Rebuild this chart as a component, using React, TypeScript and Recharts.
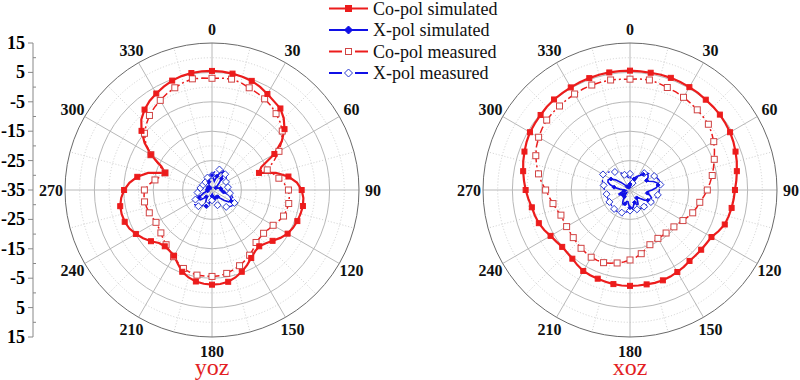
import { RadarChart, Radar, PolarGrid, PolarAngleAxis, PolarRadiusAxis } from 'recharts'

// angle in degrees, clockwise from top
const angles = [
  0, 5, 10, 15, 20, 25, 30, 35, 40, 45, 50, 55,
  60, 65, 70, 75, 80, 85, 90, 95, 100, 105, 110, 115,
  120, 125, 130, 135, 140, 145, 150, 155, 160, 165, 170, 175,
  180, 185, 190, 195, 200, 205, 210, 215, 220, 225, 230, 235,
  240, 245, 250, 255, 260, 265, 270, 275, 280, 285, 290, 295,
  300, 305, 310, 315, 320, 325, 330, 335, 340, 345, 350, 355,
]

const yozCoSim = [
  5.5, 5.4, 5.2, 4.9, 4.5, 3.7, 2.7, 1.8, 1.2, -0.5, -2.8, -6.0,
  -10.5, -16.5, -18.0, -12.5, -8.6, -6.0, -4.5, -3.8, -3.6, -3.8, -4.1, -4.6,
  -5.3, -6.6, -8.1, -9.3, -10.0, -9.5, -8.3, -6.8, -5.4, -4.2, -3.3, -2.9,
  -2.8, -3.0, -3.4, -4.2, -5.4, -7.4, -9.2, -9.8, -10.0, -9.5, -7.9, -6.4,
  -5.1, -4.0, -3.4, -3.2, -3.3, -4.0, -5.1, -6.8, -9.2, -12.5, -18.0, -16.0,
  -11.0, -7.0, -3.7, -1.0, 0.7, 2.0, 2.9, 3.8, 4.6, 5.1, 5.4, 5.5,
]
const yozCoMeas = [
  3.0, 3.2, 3.3, 2.8, 2.0, 1.4, 0.8, 0.0, -1.1, -2.3, -3.8, -6.0,
  -8.7, -11.8, -15.0, -13.5, -11.9, -10.3, -9.0, -8.6, -8.5, -8.7, -9.1, -10.0,
  -11.0, -11.6, -12.1, -12.0, -11.7, -10.5, -9.4, -8.5, -7.6, -6.9, -6.2, -5.7,
  -5.6, -5.6, -5.6, -6.0, -6.6, -7.7, -8.8, -9.8, -10.7, -11.5, -12.3, -12.8,
  -13.0, -12.7, -12.3, -12.0, -11.7, -11.8, -12.0, -13.5, -15.3, -17.0, -18.0, -15.3,
  -11.0, -7.5, -5.0, -3.4, -1.9, -0.8, 0.2, 1.2, 2.0, 2.8, 3.4, 3.2,
]
const yozXSim = [
  -30, -30.5, -31.5, -32, -30, -28.5, -28, -28.5, -30, -31.5, -32.5, -33,
  -33.5, -33.5, -33, -32.5, -32, -31.5, -31.5, -32, -31, -29.5, -28.5, -27.8,
  -27.5, -28, -29.5, -31, -32, -32.5, -32.5, -32, -32, -32.5, -33, -33.5,
  -33, -32, -31, -29.8, -29.2, -29.8, -31, -32, -32, -31, -29.8, -29.5,
  -30, -31, -32, -33, -33.5, -33.5, -33, -33, -33.5, -34, -34, -34,
  -33.5, -33, -33, -33.5, -34, -33.5, -33, -32.5, -32, -31.5, -31, -30.5,
]
const yozXMeas = [
  -30, -29.2, -28.5, -28, -27.6, -27.5, -27.4, -27.7, -28, -28.3, -28.6, -29.1,
  -29.5, -29.7, -29.8, -29.7, -29.5, -29.2, -29, -28.9, -28.8, -28.2, -27.5, -26.8,
  -26.2, -26.1, -26.5, -27, -27.5, -27.8, -28, -28.8, -29.5, -30.3, -31, -31.3,
  -31.5, -31, -30.5, -30, -29.5, -29.2, -29, -28.4, -27.8, -27.5, -27.3, -27.8,
  -28.5, -29.1, -29.7, -29.9, -30, -30.2, -30.5, -30.8, -31, -31.3, -31.5, -31.5,
  -31.5, -31.6, -31.8, -31.7, -31.5, -31.2, -31, -30.8, -30.5, -30.3, -30, -30,
]

const xozCoSim = [
  5.6, 5.5, 5.5, 5.6, 5.6, 5.5, 5.4, 5.3, 5.1, 5.0, 4.9, 4.6,
  4.3, 3.8, 3.2, 2.6, 1.9, 1.3, 0.7, 0.4, 0.1, -0.3, -0.7, -1.8,
  -3.0, -3.3, -3.4, -3.5, -3.5, -3.1, -2.8, -2.5, -2.3, -2.3, -2.4, -2.4,
  -2.4, -2.4, -2.5, -2.7, -2.9, -3.0, -3.2, -3.8, -4.5, -4.8, -4.9, -4.4,
  -3.8, -2.8, -2.0, -1.5, -1.1, -0.3, 0.5, 1.2, 1.9, 2.6, 3.2, 3.8,
  4.3, 4.5, 4.7, 5.0, 5.2, 5.2, 5.3, 5.4, 5.5, 5.6, 5.6, 5.6,
]
const xozCoMeas = [
  2.7, 2.9, 3.0, 2.6, 2.1, 1.8, 1.4, 1.0, 0.6, 0.2, -0.2, -1.1,
  -2.1, -3.3, -4.5, -5.6, -6.6, -7.7, -8.7, -9.8, -10.9, -11.6, -12.3, -13.3,
  -14.2, -15.0, -15.5, -15.8, -15.9, -16.0, -16.0, -15.7, -15.2, -14.2, -13.0, -12.0,
  -11.2, -10.4, -9.8, -9.2, -8.7, -8.6, -8.6, -8.9, -9.1, -9.5, -9.8, -10.0,
  -10.1, -10.1, -10.0, -9.2, -8.4, -7.4, -6.3, -4.8, -3.4, -2.1, -0.9, 0.1,
  0.9, 1.5, 2.0, 2.2, 2.3, 2.5, 2.7, 2.9, 3.0, 3.0, 3.0, 2.8,
]
const xozXSim = [
  -33, -33.5, -33, -32, -31, -30, -29.5, -29, -28, -27.2, -27, -27.5,
  -28.5, -28, -26.5, -25.5, -25.3, -26, -27.5, -29, -29, -28, -27.2, -27.5,
  -28, -29, -30.5, -31.5, -31.5, -30.5, -29.5, -29.5, -30.5, -30, -29, -28.5,
  -29, -30, -31, -31, -30, -29.5, -30, -31, -32, -33, -33.5, -33,
  -32, -31, -31, -32, -33, -33.5, -33, -31.5, -29.5, -28, -27, -26.8,
  -27.5, -29, -31, -32.5, -33.5, -34, -34, -34, -34, -34, -34, -33.5,
]
const xozXMeas = [
  -29.5, -31, -32, -32.5, -32.5, -32, -30, -28.5, -27.5, -26.8, -26.4, -26,
  -25.5, -25, -24.6, -24.4, -24.5, -24.8, -25, -25.2, -25.4, -25.7, -26, -26.4,
  -26.8, -27.1, -27.3, -27.5, -27.6, -27.7, -27.8, -27.9, -28, -28.1, -28.2, -28.1,
  -28, -27.7, -27.4, -27.1, -26.8, -26.6, -26.5, -26.5, -26.6, -26.7, -26.8, -26.9,
  -26.9, -26.9, -26.9, -26.9, -26.9, -26.6, -26.3, -26.1, -25.9, -25.4, -25, -24.7,
  -24.4, -24.9, -25.5, -26.2, -27, -27.5, -28, -28.8, -29.5, -30, -30.5, -30.8,
]

const labelAngles = [0, 30, 60, 90, 120, 150, 180, 210, 240, 270, 300, 330]
const minorGridAngles = [15, 45, 75, 105, 135, 165, 195, 225, 255, 285, 315, 345]
const majorRings = [-25, -15, -5, 5]
const minorRings = [-30, -20, -10, 0, 10]

const MIN = -35
const MAX = 15
const R = 147
const RED = '#ec1c1c'
const RED_M = '#d04444'
const BLUE = '#1010e6'
const BLUE_M = '#2a3ad0'
const SERIF = "'Liberation Serif', 'Times New Roman', serif"

const ringPx = (v: number) => ((v - MIN) / (MAX - MIN)) * R
const toChartAngle = (deg: number) => 90 - deg

const yozData = angles.map((a, i) => ({
  angle: a, coSim: yozCoSim[i], coMeas: yozCoMeas[i], xSim: yozXSim[i], xMeas: yozXMeas[i],
}))
const xozData = angles.map((a, i) => ({
  angle: a, coSim: xozCoSim[i], coMeas: xozCoMeas[i], xSim: xozXSim[i], xMeas: xozXMeas[i],
}))

function AngleTick(props: any) {
  const { x, y, payload } = props
  const v = Number(payload?.value)
  if (v % 30 !== 0) return <g />
  const deg = payload?.coordinate ?? toChartAngle(v)
  const a = (deg * Math.PI) / 180
  return (
    <text
      x={x + Math.cos(a) * 6}
      y={y - Math.sin(a) * 6}
      textAnchor="middle"
      dominantBaseline="central"
      fontFamily={SERIF}
      fontWeight="bold"
      fontSize={16}
      fill="#111"
    >
      {v}
    </text>
  )
}

function axisTick(p: any, skipCenter: boolean) {
  const v = Number(p.payload?.value)
  if (skipCenter && v === MIN) return <g />
  const major = Math.abs((v - MIN) % 10) < 0.01
  return (
    <g>
      {major ? (
        <line x1={p.x - 5} x2={p.x} y1={p.y} y2={p.y} stroke="#888" />
      ) : (
        <line x1={p.x} x2={p.x + 3} y1={p.y} y2={p.y} stroke="#888" />
      )}
      {major && (
        <text
          x={p.x - 8}
          y={p.y}
          textAnchor="end"
          dominantBaseline="central"
          fontFamily={SERIF}
          fontWeight={700}
          fontSize={18}
          fill="#000"
        >
          {v}
        </text>
      )}
    </g>
  )
}
const UpTick = (p: any) => axisTick(p, false)
const DownTick = (p: any) => axisTick(p, true)

const squareDot = (fill: string, stroke: string, size: number, every: number) => (p: any) => {
  if (p.index % every !== 0 || p.cx == null) return <g key={`s${p.index}`} />
  return (
    <rect key={`s${p.index}`} x={p.cx - size / 2} y={p.cy - size / 2} width={size} height={size}
      fill={fill} stroke={stroke} strokeWidth={1} />
  )
}
const diamondDot = (fill: string, stroke: string, size: number, every: number) => (p: any) => {
  if (p.index % every !== 0 || p.cx == null) return <g key={`d${p.index}`} />
  const h = size / 2
  return (
    <path key={`d${p.index}`}
      d={`M${p.cx},${p.cy - h}L${p.cx + h},${p.cy}L${p.cx},${p.cy + h}L${p.cx - h},${p.cy}Z`}
      fill={fill} stroke={stroke} strokeWidth={1} />
  )
}

function PolarPlot({ data, title, left }: { data: any[]; title: string; left: number }) {
  return (
    <div style={{ position: 'absolute', left, top: 0, width: 424, height: 380 }}>
      <RadarChart
        width={424}
        height={380}
        cx={212}
        cy={190}
        outerRadius={R}
        startAngle={90}
        endAngle={-270}
        data={data}
        margin={{ top: 0, right: 0, bottom: 0, left: 0 }}
      >
        <PolarGrid
          gridType="circle"
          polarAngles={minorGridAngles.map(toChartAngle)}
          polarRadius={minorRings.map(ringPx)}
          stroke="#cfcfcf"
          strokeDasharray="1 2"
        />
        <PolarGrid
          gridType="circle"
          polarAngles={labelAngles.map(toChartAngle)}
          polarRadius={majorRings.map(ringPx)}
          stroke="#b8b8b8"
        />
        <PolarAngleAxis dataKey="angle" tick={AngleTick} tickLine={false} axisLine={{ stroke: '#6a6a6a' }} />
        <PolarRadiusAxis type="number" domain={[MIN, MAX]} allowDataOverflow tickCount={6} tick={false} axisLine={false} />
        <Radar dataKey="coMeas" stroke={RED} strokeWidth={1.5} strokeDasharray="7 3 2 3" fill="none" fillOpacity={0}
          dot={squareDot('#fff', RED_M, 6, 2)} isAnimationActive={false} />
        <Radar dataKey="coSim" stroke={RED} strokeWidth={2.2} fill="none" fillOpacity={0}
          dot={squareDot(RED, RED, 5, 2)} isAnimationActive={false} />
        <Radar dataKey="xMeas" stroke={BLUE} strokeWidth={1.3} strokeDasharray="5 3 2 3" fill="none" fillOpacity={0}
          dot={diamondDot('#fff', BLUE_M, 7, 4)} isAnimationActive={false} />
        <Radar dataKey="xSim" stroke={BLUE} strokeWidth={1.6} fill="none" fillOpacity={0}
          dot={diamondDot(BLUE, BLUE, 4, 4)} isAnimationActive={false} />
      </RadarChart>
      <div
        style={{
          position: 'absolute', left: 0, top: 360, width: 424, textAlign: 'center',
          fontFamily: SERIF, fontSize: 24, lineHeight: '14px', color: '#e31e24',
        }}
      >
        {title}
      </div>
    </div>
  )
}

const legendRows = [
  { label: 'Co-pol simulated', color: RED, dashed: false, marker: 'square', filled: true },
  { label: 'X-pol simulated', color: BLUE, dashed: false, marker: 'diamond', filled: true },
  { label: 'Co-pol measured', color: RED, dashed: true, marker: 'square', filled: false },
  { label: 'X-pol measured', color: BLUE, dashed: true, marker: 'diamond', filled: false },
]
const legendY = [8.5, 30, 51.5, 73]

function LegendBox() {
  return (
    <svg width={200} height={86} style={{ position: 'absolute', left: 325, top: 0 }}>
      {legendRows.map((r, i) => {
        const y = legendY[i]
        const mx = 23.5
        const mStroke = r.filled ? r.color : r.color === RED ? RED_M : BLUE_M
        return (
          <g key={r.label}>
            {r.dashed ? (
              <>
                <line x1={4} x2={17} y1={y} y2={y} stroke={r.color} strokeWidth={2} />
                <line x1={30} x2={43} y1={y} y2={y} stroke={r.color} strokeWidth={2} />
              </>
            ) : (
              <line x1={4} x2={43} y1={y} y2={y} stroke={r.color} strokeWidth={2.2} />
            )}
            {r.marker === 'square' ? (
              <rect x={mx - 3} y={y - 3} width={6} height={6} fill={r.filled ? r.color : '#fff'} stroke={mStroke} />
            ) : (
              <path d={`M${mx},${y - 4}L${mx + 4},${y}L${mx},${y + 4}L${mx - 4},${y}Z`}
                fill={r.filled ? r.color : '#fff'} stroke={mStroke} />
            )}
            <text x={48} y={y} dominantBaseline="central" fontFamily={SERIF} fontSize={18} fill="#111">
              {r.label}
            </text>
          </g>
        )
      })}
    </svg>
  )
}

// the dB scale at the left edge: the radial scale of the plots, drawn upward and downward
function LeftAxis() {
  return (
    <div style={{ position: 'absolute', left: 0, top: 0, width: 80, height: 380 }}>
      <RadarChart
        width={80}
        height={380}
        cx={33}
        cy={190}
        outerRadius={R}
        startAngle={90}
        endAngle={-270}
        data={yozData}
        margin={{ top: 0, right: 0, bottom: 0, left: 0 }}
      >
        <PolarAngleAxis dataKey="angle" tick={false} tickLine={false} axisLine={false} />
        <PolarRadiusAxis angle={90} type="number" domain={[MIN, MAX]} allowDataOverflow tickCount={11} tick={UpTick}
          axisLine={{ stroke: '#888' }} />
        <PolarRadiusAxis radiusAxisId="down" angle={270} type="number" domain={[MIN, MAX]} allowDataOverflow
          tickCount={11} tick={DownTick} axisLine={{ stroke: '#888' }} />
        <Radar dataKey="coSim" stroke="none" fill="none" fillOpacity={0} dot={false} isAnimationActive={false} />
        <Radar dataKey="coSim" radiusAxisId="down" stroke="none" fill="none" fillOpacity={0} dot={false}
          isAnimationActive={false} />
      </RadarChart>
    </div>
  )
}

export default function App() {
  return (
    <div style={{ position: 'absolute', left: 0, top: 0, width: 800, height: 380, background: '#fff', overflow: 'hidden' }}>
      <PolarPlot data={yozData} title="yoz" left={0} />
      <PolarPlot data={xozData} title="xoz" left={418} />
      <LeftAxis />
      <LegendBox />
    </div>
  )
}
